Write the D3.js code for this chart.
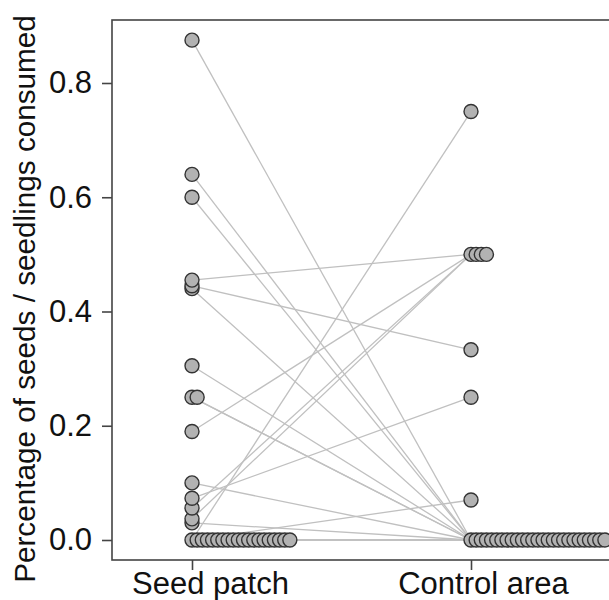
<!DOCTYPE html>
<html>
<head>
<meta charset="utf-8">
<script src="https://cdn.jsdelivr.net/npm/d3@7"></script>
<style>
  body { margin: 0; background: #fff; overflow: hidden; }
  svg { display: block; }
  text { font-family: "Liberation Sans", Arial, sans-serif; }
</style>
</head>
<body>
<div id="chart"></div>
<script>
// paired observations: seedPatch[i] belongs with controlArea[i]
let groups = ['Seed patch', 'Control area'];
let seedPatch = [0.875, 0.64, 0.60, 0.455, 0.445, 0.44, 0.305, 0.25, 0.25, 0.19, 0.10, 0.073, 0.056, 0.037, 0.03,
  0, 0, 0, 0, 0, 0, 0, 0, 0, 0, 0, 0, 0, 0, 0, 0, 0, 0, 0, 0];
let controlArea = [0, 0, 0, 0.5, 0.333, 0, 0, 0, 0, 0.5, 0, 0.25, 0.5, 0.5, 0,
  0.75, 0.07, 0, 0, 0, 0, 0, 0, 0, 0, 0, 0, 0, 0, 0, 0, 0, 0, 0, 0];
let yTicks = [0, 0.2, 0.4, 0.6, 0.8];

let margin = {top: 20, right: 0, bottom: 40, left: 112};
let width = 609 - margin.left - margin.right;
let height = 600 - margin.top - margin.bottom;

let xScale = d3.scalePoint()
  .domain(groups)
  .range([80, 359]);

let yScale = d3.scaleLinear()
  .domain([0, 0.8])
  .range([height - 20, height - 20 - 0.8 * 571.25]);

let svg = d3.select('#chart')
  .append('svg')
  .attr('width', 609)
  .attr('height', 600)
  .append('g')
  .attr('transform', 'translate(' + margin.left + ',' + margin.top + ')');

// pairs
let pairs = seedPatch.map((d, i) => [d, controlArea[i]]);

// points, dodged sideways when values tie
let dodge = 5.15;
let points = [];
[seedPatch, controlArea].forEach((vals, g) => {
  let seen = {};
  vals.slice().sort((a, b) => a - b).forEach(v => {
    let k = seen[v] || 0;
    seen[v] = k + 1;
    points.push({group: groups[g], value: v, k: k});
  });
});

svg.selectAll('line.pair')
  .data(pairs)
  .enter()
  .append('line')
  .attr('class', 'pair')
  .attr('x1', xScale(groups[0]))
  .attr('x2', xScale(groups[1]))
  .attr('y1', d => yScale(d[0]))
  .attr('y2', d => yScale(d[1]))
  .attr('stroke', '#c0c0c0')
  .attr('stroke-width', 1.3);

svg.selectAll('circle')
  .data(points)
  .enter()
  .append('circle')
  .attr('cx', d => xScale(d.group) + d.k * dodge)
  .attr('cy', d => yScale(d.value))
  .attr('r', 7)
  .attr('fill', '#b2b2b2')
  .attr('stroke', '#333')
  .attr('stroke-width', 1.4);

// panel border (right side runs off the page)
svg.append('rect')
  .attr('x', 0)
  .attr('y', 0)
  .attr('width', width + 100)
  .attr('height', height)
  .attr('fill', 'none')
  .attr('stroke', '#444')
  .attr('stroke-width', 1.6);

let yAxis = d3.axisLeft(yScale)
  .tickValues(yTicks)
  .tickFormat(d3.format('.1f'))
  .tickSize(10)
  .tickPadding(10);

let xAxis = d3.axisBottom(xScale)
  .tickSize(10)
  .tickPadding(2);

let gy = svg.append('g')
  .attr('class', 'y axis')
  .call(yAxis);
let gx = svg.append('g')
  .attr('class', 'x axis')
  .attr('transform', 'translate(0,' + height + ')')
  .call(xAxis);

[gx, gy].forEach(g => {
  g.select('.domain').remove();
  g.selectAll('line').attr('stroke', '#444').attr('stroke-width', 1.6);
  g.selectAll('text')
    .attr('fill', '#111')
    .style('font-family', '"Liberation Sans", Arial, sans-serif')
    .style('font-size', '31px');
});

// category labels sit a little right of their ticks in the original
gx.selectAll('text').attr('dx', (d, i) => i === 0 ? 18 : 12);

svg.append('text')
  .attr('class', 'y label')
  .attr('text-anchor', 'middle')
  .attr('transform', 'translate(' + (35 - margin.left) + ',' + (299 - margin.top) + ') rotate(-90)')
  .attr('fill', '#111')
  .style('font-size', '29.7px')
  .text('Percentage of seeds / seedlings consumed');
</script>
</body>
</html>
